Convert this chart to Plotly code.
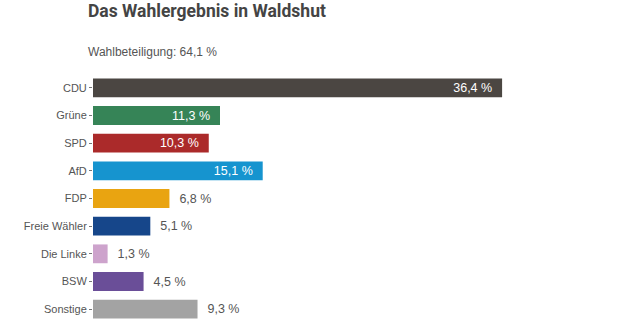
import plotly.graph_objects as go

parties = ["CDU", "Grüne", "SPD", "AfD", "FDP", "Freie Wähler", "Die Linke", "BSW", "Sonstige"]
values = [36.4, 11.3, 10.3, 15.1, 6.8, 5.1, 1.3, 4.5, 9.3]
colors = ["#4b4642", "#368457", "#ab2a2a", "#1694cf", "#e9a411", "#16468a", "#cda3cc", "#6a4e98", "#a3a3a3"]
title = "Das Wahlergebnis in Waldshut"
subtitle = "Wahlbeteiligung: 64,1 %"

labels = [f"{v:.1f} %".replace(".", ",") for v in values]
inside = [v >= 10 for v in values]
texts = [l + "  " if i else "  " + l for l, i in zip(labels, inside)]
positions = ["inside" if i else "outside" for i in inside]
tcolors = ["white" if i else "#555555" for i in inside]

FONT = "Liberation Sans, Arial, sans-serif"

fig = go.Figure(go.Bar(
    x=values, y=parties, orientation="h",
    marker=dict(color=colors, line=dict(width=0)),
    text=texts, textposition=positions,
    insidetextanchor="end", constraintext="none",
    textfont=dict(color=tcolors, size=12.5, family=FONT),
    cliponaxis=False, width=0.68,
))

fig.update_layout(
    width=629, height=325,
    margin=dict(l=93, r=19, t=74, b=2),
    paper_bgcolor="white", plot_bgcolor="white",
    showlegend=False,
    title=dict(text=title, xref="container", yref="container", x=88/629, y=1-11/325,
               xanchor="left", yanchor="middle",
               font=dict(family="Roboto, sans-serif", size=17.5, color="#444444", weight="bold")),
    annotations=[dict(text=subtitle, xref="paper", yref="paper", x=-7/517, y=(323-52)/249,
                      xanchor="left", yanchor="middle", showarrow=False,
                      font=dict(family=FONT, size=12, color="#555555"))],
)
fig.update_xaxes(range=[0, 46], visible=False)
fig.update_yaxes(autorange=False, range=[8.5, -0.5], categoryorder="array", categoryarray=parties,
                 ticks="outside", ticklen=3, tickcolor="#777777", showline=False, showgrid=False,
                 tickfont=dict(family=FONT, size=11, color="#555555"))

fig.write_html("out.html")
